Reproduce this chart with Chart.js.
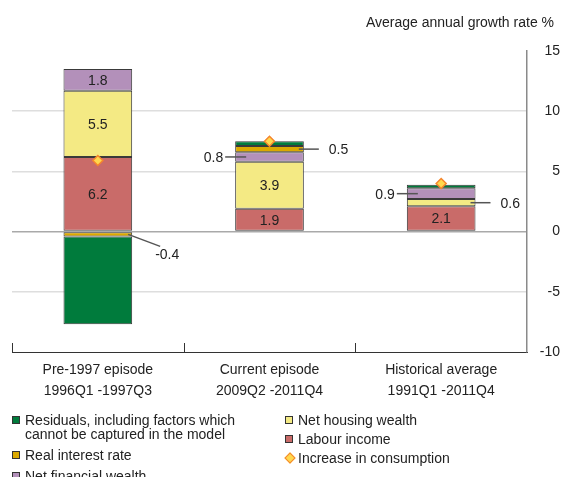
<!DOCTYPE html>
<html>
<head>
<meta charset="utf-8">
<script src="https://cdn.jsdelivr.net/npm/chart.js@4.4.1/dist/chart.umd.min.js"></script>
<style>
  body { margin: 0; background: #fff; }
  #wrap { position: relative; width: 566px; height: 477px; overflow: hidden; font-family: "Liberation Sans", Arial, sans-serif; color: #222; }
  #chart { position: absolute; left: 0; top: 0; }
  .col { position: absolute; top: 413px; }
  .item { position: relative; padding-left: 13px; font-size: 14px; line-height: 14px; white-space: nowrap; }
  .col1 .item { margin-bottom: 7px; }
  .col2 .item { margin-bottom: 5px; }
  .mk { position: absolute; left: 0; top: 3px; width: 6px; height: 6px; border: 1px solid #333; }
  .dia { position: absolute; left: 1px; top: 3px; width: 6px; height: 6px; transform: rotate(45deg); border: 1px solid #f5862d; background: #ffd84d; }
</style>
</head>
<body>
<div id="wrap">
  <canvas id="chart" width="566" height="477"></canvas>
  <div class="col col1" style="left:12px" id="legend1"></div>
  <div class="col col2" style="left:285px" id="legend2"></div>
</div>
<script>
const categoryNames = ['Pre-1997 episode', 'Current episode', 'Historical average'];
const periodLabels = ['1996Q1 -1997Q3', '2009Q2 -2011Q4', '1991Q1 -2011Q4'];

const labourIncome = [6.2, 1.9, 2.1];
const netHousingWealth = [5.5, 3.9, 0.6];
const netFinancialWealth = [1.8, 0.8, 0.9];
const realInterestRate = [-0.4, 0.5, 0.0];
const residuals = [-7.3, 0.4, 0.3];
const consumptionIncrease = [5.9, 7.5, 4.0];

const yTicks = [-10, -5, 0, 5, 10, 15];

const colors = {
    labour: '#c96b69',
    housing: '#f4ea84',
    financial: '#b390ba',
    interest: '#dba900',
    residual: '#007b3c'
};

const font = '"Liberation Sans", Arial, sans-serif';

function barSet(label, data, color, side, showLabels) {
    return {
        type: 'bar',
        label: label,
        data: data,
        backgroundColor: color,
        borderColor: '#3a3a3a',
        borderWidth: 1,
        borderSkipped: false,
        stack: 'parts',
        order: 2,
        barPercentage: 0.4,
        categoryPercentage: 1,
        side: side,
        showLabels: showLabels
    };
}

// value labels, with short leader lines for the thin segments
const segmentLabels = {
    id: 'segmentLabels',
    afterDatasetsDraw(chart) {
        const ctx = chart.ctx;
        ctx.save();
        ctx.font = '14px ' + font;
        ctx.fillStyle = '#222';
        ctx.strokeStyle = '#555';
        ctx.lineWidth = 1.5;
        ctx.textBaseline = 'middle';
        chart.data.datasets.forEach(function (ds, di) {
            if (ds.type !== 'bar' || !ds.showLabels) return;
            const meta = chart.getDatasetMeta(di);
            meta.data.forEach(function (bar, i) {
                const v = ds.data[i];
                if (!v) return;
                const h = Math.abs(bar.base - bar.y);
                const cy = (bar.y + bar.base) / 2;
                const left = bar.x - bar.width / 2;
                const right = bar.x + bar.width / 2;
                const txt = v.toFixed(1);
                if (h > 16) {
                    ctx.textAlign = 'center';
                    ctx.fillText(txt, bar.x, cy + 1);
                } else if (v < 0) {
                    ctx.beginPath();
                    ctx.moveTo(right - 4, cy);
                    ctx.lineTo(right + 28, cy + 12);
                    ctx.stroke();
                    ctx.textAlign = 'left';
                    ctx.fillText(txt, right + 23, cy + 21);
                } else if (ds.side === 'left') {
                    ctx.beginPath();
                    ctx.moveTo(left - 10, cy);
                    ctx.lineTo(left + 11, cy);
                    ctx.stroke();
                    ctx.textAlign = 'right';
                    ctx.fillText(txt, left - 12, cy + 1);
                } else {
                    ctx.beginPath();
                    ctx.moveTo(right - 5, cy);
                    ctx.lineTo(right + 15, cy);
                    ctx.stroke();
                    ctx.textAlign = 'left';
                    ctx.fillText(txt, right + 25, cy + 1);
                }
            });
        });
        ctx.restore();
    }
};

// axis title top right and the small upward ticks between categories
const axisExtras = {
    id: 'axisExtras',
    afterDraw(chart) {
        const ctx = chart.ctx;
        const x = chart.scales.x;
        const area = chart.chartArea;
        ctx.save();
        ctx.font = '14px ' + font;
        ctx.fillStyle = '#222';
        ctx.textAlign = 'right';
        ctx.textBaseline = 'middle';
        ctx.fillText('Average annual growth rate %', area.right + 27, 23);

        const step = x.getPixelForTick(1) - x.getPixelForTick(0);
        ctx.strokeStyle = '#333';
        ctx.lineWidth = 1;
        for (let i = 0; i < categoryNames.length; i++) {
            const bx = Math.round(x.getPixelForTick(i) - step / 2) + 0.5;
            ctx.beginPath();
            ctx.moveTo(bx, area.bottom);
            ctx.lineTo(bx, area.bottom - 9);
            ctx.stroke();
        }
        ctx.restore();
    }
};

new Chart(document.getElementById('chart'), {
    data: {
        labels: categoryNames.map(function (n, i) { return [n, periodLabels[i]]; }),
        datasets: [
            barSet('Labour income', labourIncome, colors.labour, 'right', true),
            barSet('Net housing wealth', netHousingWealth, colors.housing, 'right', true),
            barSet('Net financial wealth', netFinancialWealth, colors.financial, 'left', true),
            barSet('Real interest rate', realInterestRate, colors.interest, 'right', true),
            barSet('Residuals, including factors which cannot be captured in the model', residuals, colors.residual, 'right', false),
            {
                type: 'line',
                label: 'Increase in consumption',
                data: consumptionIncrease,
                showLine: false,
                stack: 'consumption',
                order: 1,
                pointStyle: 'rectRot',
                pointRadius: 5,
                pointBackgroundColor: '#ffd84d',
                pointBorderColor: '#f5862d',
                pointBorderWidth: 1.5
            }
        ]
    },
    options: {
        responsive: false,
        animation: false,
        devicePixelRatio: 1,
        layout: { padding: { left: 12, right: 6, top: 51, bottom: 67 } },
        plugins: {
            legend: { display: false },
            tooltip: { enabled: false }
        },
        scales: {
            x: {
                stacked: true,
                grid: { display: false, drawTicks: false },
                border: { display: true, color: '#333', width: 1 },
                ticks: {
                    color: '#222',
                    padding: 8,
                    font: { family: font, size: 14, lineHeight: 1.5 }
                }
            },
            y: {
                stacked: true,
                position: 'right',
                min: -10,
                max: 15,
                afterBuildTicks(scale) {
                    scale.ticks = yTicks.map(function (v) { return { value: v }; });
                },
                afterFit(scale) {
                    scale.width = 33;
                },
                grid: {
                    drawTicks: false,
                    lineWidth: 1.5,
                    color(c) {
                        const v = c.tick && c.tick.value;
                        if (v === 0) return '#a9a9a9';
                        if (v === 15 || v === -10) return 'rgba(0,0,0,0)';
                        return '#dedede';
                    }
                },
                border: { display: true, color: '#8a8a8a', width: 1.5 },
                ticks: {
                    color: '#222',
                    crossAlign: 'far',
                    padding: 14,
                    font: { family: font, size: 14 }
                }
            }
        }
    },
    plugins: [segmentLabels, axisExtras]
});

// legend
const legendCol1 = [
    { text: 'Residuals, including factors which<br>cannot be captured in the model', color: colors.residual },
    { text: 'Real interest rate', color: colors.interest },
    { text: 'Net financial wealth', color: colors.financial }
];
const legendCol2 = [
    { text: 'Net housing wealth', color: colors.housing },
    { text: 'Labour income', color: colors.labour },
    { text: 'Increase in consumption', diamond: true }
];

function fillLegend(el, items) {
    items.forEach(function (it) {
        const div = document.createElement('div');
        div.className = 'item';
        const mark = it.diamond
            ? '<span class="dia"></span>'
            : '<span class="mk" style="background:' + it.color + '"></span>';
        div.innerHTML = mark + it.text;
        el.appendChild(div);
    });
}
fillLegend(document.getElementById('legend1'), legendCol1);
fillLegend(document.getElementById('legend2'), legendCol2);
</script>
</body>
</html>
